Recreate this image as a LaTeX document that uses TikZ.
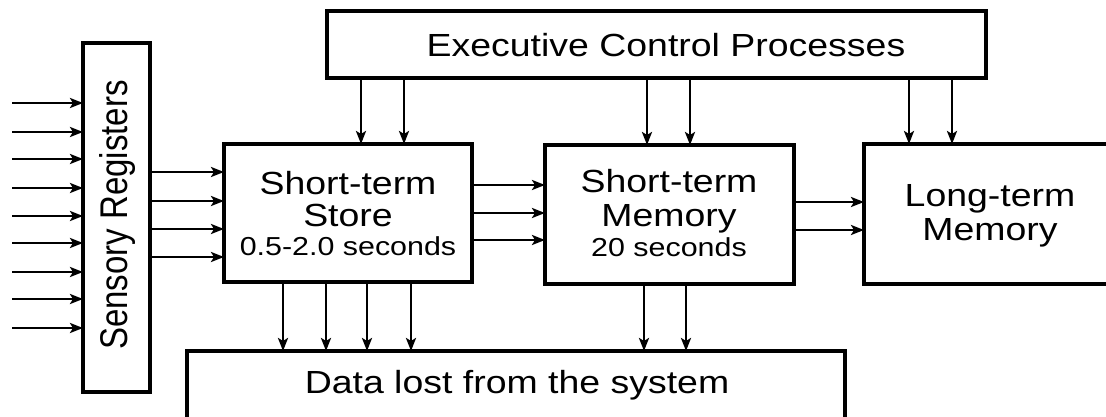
\documentclass[tikz,border=0pt]{standalone}
\usepackage{fontspec}
\setmainfont{Liberation Sans}[FakeStretch=1.17]
\newfontfamily\plainsans{Liberation Sans}
\usetikzlibrary{arrows.meta}
\begin{document}
\begin{tikzpicture}[x=1pt,y=-1pt,
  box/.style={draw, line width=3.6pt, rectangle, outer sep=0pt, inner sep=0pt, anchor=north west},
  arr/.style={line width=2.8pt, -{Stealth[length=13pt,width=10pt,inset=3pt]}},
  big/.style={font=\fontsize{32}{34}\selectfont, inner sep=0pt, anchor=base},
  small/.style={font=\fontsize{26}{28}\selectfont, inner sep=0pt, anchor=base}]
\useasboundingbox (0,0) rectangle (1106,417);
\clip (0,0) rectangle (1106,417);
% boxes
\node[box, minimum width=67pt, minimum height=349pt] (sr) at (83,43) {};
\node[box, minimum width=659pt, minimum height=67pt] (ecp) at (327,11) {};
\node[box, minimum width=248pt, minimum height=138pt] (sts) at (224,144) {};
\node[box, minimum width=249pt, minimum height=139pt] (stm) at (545,145) {};
\node[box, minimum width=251pt, minimum height=140pt] (ltm) at (864,144) {};
\node[box, minimum width=658pt, minimum height=70pt] (dl) at (187,351) {};
% labels
\node[anchor=base, inner sep=0pt, rotate=90] (srl) at (127,215)
  {\plainsans\fontsize{33}{35}\selectfont\scalebox{1}[1.17]{Sensory Registers}};
\node[big] (ecpl) at (666,57) {Executive Control Processes};
\node[big] (stsl1) at (348,194) {Short-term};
\node[big] (stsl2) at (348,226) {Store};
\node[small] (stsl3) at (348,255) {0.5-2.0 seconds};
\node[big] (stml1) at (669,193) {Short-term};
\node[big] (stml2) at (669,226) {Memory};
\node[small] (stml3) at (669,256) {20 seconds};
\node[big] (ltml1) at (990,207) {Long-term};
\node[big] (ltml2) at (990,240) {Memory};
\node[big] (dll) at (517,393) {Data lost from the system};
% inputs to sensory registers
\foreach \y [count=\i] in {103,132,159,188,216,243,272,299,328} {
  \coordinate (in\i) at (12,\y);
  \draw[arr] (in\i) -- (in\i -| sr.west);
}
% sensory -> STS
\foreach \y in {172,201,229,257}
  \draw[arr] (sr.east |- 0,\y) -- (sts.west |- 0,\y);
% STS -> STM
\foreach \y in {185,213,240}
  \draw[arr] (sts.east |- 0,\y) -- (stm.west |- 0,\y);
% STM -> LTM
\foreach \y in {202,230}
  \draw[arr] (stm.east |- 0,\y) -- (ltm.west |- 0,\y);
% executive -> boxes
\foreach \x in {361,404}
  \draw[arr] (ecp.south -| \x,0) -- (sts.north -| \x,0);
\foreach \x in {647,690}
  \draw[arr] (ecp.south -| \x,0) -- (stm.north -| \x,0);
\foreach \x in {909,952}
  \draw[arr] (ecp.south -| \x,0) -- (ltm.north -| \x,0);
% losses
\foreach \x in {283,326,367,411}
  \draw[arr] (sts.south -| \x,0) -- (dl.north -| \x,0);
\foreach \x in {644,686}
  \draw[arr] (stm.south -| \x,0) -- (dl.north -| \x,0);
\end{tikzpicture}
\end{document}
